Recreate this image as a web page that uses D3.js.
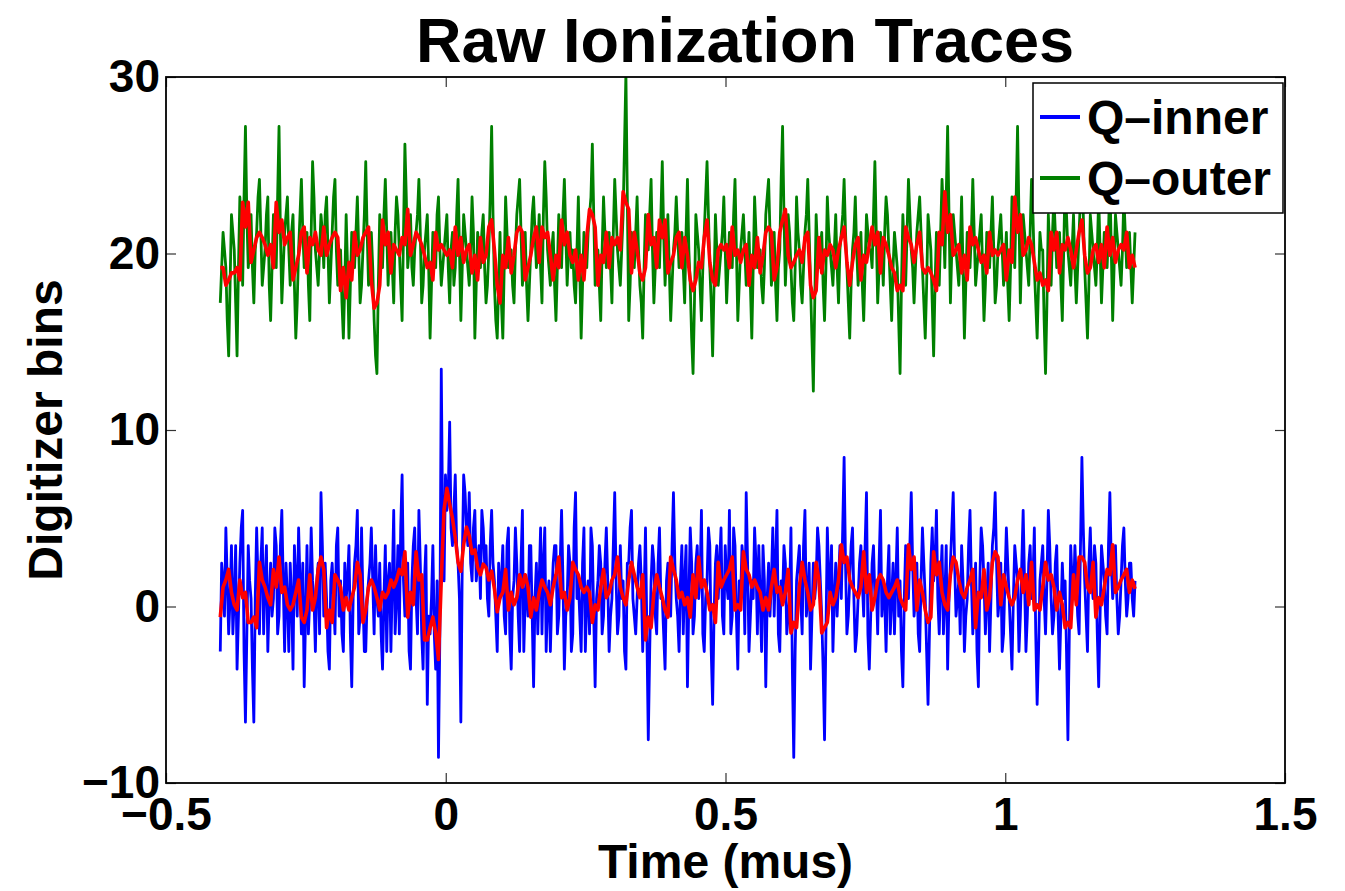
<!DOCTYPE html>
<html>
<head>
<meta charset="utf-8">
<script src="https://cdn.jsdelivr.net/npm/d3@7"></script>
<style>
	body { margin: 0; background: #fff; }
	text { font-family: "Liberation Sans", Arial, sans-serif; font-weight: bold; fill: #000; }
</style>
</head>
<body>
<div id="chart"></div>
<script>
// sampling grid of the digitizer (mus)
const sampleStart = -0.403;
const samplePeriod = 0.0025; // raw traces
const filterPeriod = 0.005; // filtered traces

// pedestals of the two channels (digitizer bins)
const innerPedestal = 0.45;
const outerPedestal = 0.2;

// raw samples, digitizer counts above pedestal (even / odd grid points)
const qInnerEven = [
	-3, 1, 4, -2, 3, 0, -4, 2, 5, -7, 3, 0, -7, 4, -2, 4, 1, -3, 2, 0,
	3, -1, 5, -3, 0, 2, -4, 1, 4, -2, -5, 3, 0, 1, -3, 2, 6, -1, 0, -4,
	2, -2, 4, 1, -3, 0, 3, -5, 2, 5, -1, 0, -3, 1, 4, -2, 0, 2, -4, 3,
	1, -3, 5, 0, -2, 7, -1, 2, -4, 3, 0, 5, -2, 1, -6, -2, 3, -4, -9, 13,
	1, 5, 10, 3, 7, 2, -7, 7, 4, 6, 1, 5, 2, 0, 4, 3, -1, 5, 1, -3,
	0, 3, -2, 4, -4, 1, 2, -3, 5, 0, -1, 3, -5, 2, 1, -2, 4, 0, -3, 2,
	3, -1, 5, -4, 0, 2, -2, 6, 1, -3, 4, 0, -2, 3, -5, 1, 2, -1, 4, -3,
	0, 6, -2, 3, 1, -4, 2, 5, -1, 0, 3, -3, 4, -8, 1, 2, -2, 4, 0, -4,
	2, -1, 6, 0, -3, 3, 1, -5, 4, -2, 2, 0, 5, -3, 1, 3, -6, 2, 0, 4,
	-2, 1, 5, -1, 3, -4, 0, 2, 6, -3, 1, 4, -2, 0, 3, -5, 2, 1, -1, 5,
	-3, 0, 2, -1, 4, -9, 1, 3, -2, 5, 0, -4, 2, 1, 3, -1, -8, 4, 0, -3,
	2, 1, 0, 8, -2, 1, 4, -3, 0, 3, -1, 6, -4, 2, 0, -2, 5, 1, -3, 3,
	0, -2, 4, 1, -5, 3, 0, 6, -1, 2, -3, 4, 0, -6, 2, 1, 5, -2, 3, 0,
	-4, 2, 6, -1, 1, 3, -3, 0, 5, -2, 2, -5, 4, 1, 0, -3, 3, 6, -1, 2,
	-2, 4, 0, -4, 3, 1, -1, 5, -3, 2, 0, 4, -6, 1, 3, -2, 5, 0, -1, 3,
	-4, 2, 1, -8, 3, 0, 1, -2, 8, 1, -3, 4, 0, 2, -5, 3, 1, -2, 6, 0,
	3, -2, 1, 4, -1, 2, 0, 1,
];

const qInnerOdd = [
	2, -1, 1, 0, -2, 3, -1, 4, -3, -2, 1, -4, 0, 1, 2, -2, 3, 0, -1, 4,
	-2, 3, 1, 2, -3, 0, 3, -1, 1, 2, -1, -2, 4, 0, 1, -2, 3, 2, -3, 1,
	0, 3, -1, -2, 2, 1, -2, 0, 3, -2, 4, -3, 0, 2, 1, 3, -1, -2, 0, -3,
	2, 1, -2, 3, 4, 1, 0, -3, 1, 4, -2, 2, -4, 3, -1, 0, -2, 1, -2, 4,
	7, 6, 4, 5, 3, 0, 2, 6, 3, 2, 4, 1, 3, 5, 2, 0, 3, 2, -1, 2,
	1, -1, 3, -2, 0, 4, -1, 2, -3, 1, 3, -1, 0, -2, 4, 2, -3, 1, 0, 3,
	-2, 2, 1, -1, 3, -3, 4, 0, -1, 2, -3, 1, 4, -1, 0, 3, -2, 2, 1, -1,
	3, 1, -1, 0, -3, 2, 4, 0, -2, 2, 1, 0, -2, -3, 3, -1, 2, 0, -2, 1,
	0, 3, 2, -1, 1, -2, 3, 0, 2, -1, 3, 1, -2, 0, 4, -3, -1, 3, 2, -1,
	3, 0, -2, 4, -1, 1, 3, -2, 2, -1, 0, 2, 3, -3, 1, 0, -1, 4, 2, -2,
	1, 3, -2, 0, -4, -3, 2, 0, 3, -1, 2, -1, 0, 4, 1, -4, -2, 1, 3, 0,
	-1, 3, 4, 2, -1, 3, 0, -2, 2, 1, 3, -2, -1, 3, 1, 2, -1, 0, 1, -2,
	2, 1, -1, -3, 0, 1, 3, 2, 0, -2, 1, 2, -3, -2, 4, 2, 0, 1, -2, 3,
	0, 4, 2, 0, -2, 1, -1, 3, 1, 0, -3, 1, 3, -2, 2, 0, 4, 2, 0, -3,
	1, 2, -2, 0, 2, -3, 2, 1, -1, 3, 1, -2, -3, 2, 0, 1, 3, -2, 2, -1,
	-1, 0, -3, -2, 1, 3, -1, 3, 4, -1, 2, 1, 3, -2, -1, 2, -1, 3, 2, 1,
	0, -1, 3, 1, 0, 2, -1,
];

const qOuterEven = [
	17, 21, 19, 14, 22, 20, 14, 23, 18, 27, 19, 22, 17, 21, 24, 18, 20, 23, 16, 22,
	19, 27, 17, 21, 23, 18, 22, 15, 20, 24, 19, 21, 16, 25, 20, 18, 22, 19, 23, 17,
	21, 24, 18, 20, 15, 22, 15, 21, 19, 23, 17, 20, 25, 18, 21, 16, 13, 22, 19, 24,
	18, 21, 17, 23, 20, 16, 26, 19, 22, 18, 21, 24, 17, 20, 22, 15, 21, 19, 23, 18,
	20, 22, 17, 21, 19, 24, 16, 22, 20, 18, 23, 15, 21, 19, 22, 17, 20, 27, 18, 15,
	21, 15, 23, 19, 20, 17, 22, 24, 18, 21, 16, 20, 23, 19, 22, 17, 25, 20, 18, 21,
	16, 22, 19, 24, 18, 21, 20, 17, 23, 15, 21, 19, 22, 26, 18, 20, 16, 23, 19, 21,
	17, 24, 20, 18, 22, 30, 16, 21, 19, 23, 18, 15, 22, 20, 24, 17, 21, 19, 25, 18,
	22, 16, 20, 23, 19, 21, 17, 24, 18, 13, 22, 20, 16, 21, 25, 19, 14, 22, 18, 20,
	23, 17, 21, 19, 24, 16, 20, 22, 18, 21, 15, 23, 19, 20, 17, 22, 24, 18, 21, 16,
	20, 27, 18, 22, 19, 16, 23, 20, 17, 21, 24, 18, 12, 22, 19, 21, 16, 23, 20, 18,
	22, 17, 21, 24, 19, 15, 20, 23, 18, 21, 16, 22, 20, 19, 25, 17, 21, 18, 23, 20,
	16, 21, 19, 13, 22, 18, 24, 20, 17, 21, 23, 19, 15, 22, 20, 14, 21, 18, 24, 19,
	27, 17, 22, 20, 18, 23, 15, 21, 19, 24, 18, 20, 22, 16, 21, 19, 23, 17, 20, 22,
	18, 21, 16, 23, 19, 27, 17, 22, 20, 18, 24, 19, 15, 21, 20, 13, 22, 18, 23, 19,
	21, 16, 24, 20, 18, 22, 17, 21, 25, 19, 15, 22, 20, 18, 23, 17, 21, 19, 24, 16,
	22, 20, 18, 23, 19, 21, 17, 21,
];

const qOuterOdd = [
	19, 20, 16, 18, 21, 17, 19, 21, 23, 22, 20, 19, 20, 23, 21, 19, 22, 18, 19, 20,
	23, 21, 19, 22, 20, 21, 18, 17, 22, 21, 20, 18, 21, 23, 19, 20, 21, 22, 20, 19,
	23, 20, 19, 17, 18, 19, 18, 20, 21, 20, 18, 22, 21, 20, 19, 14, 18, 20, 22, 21,
	20, 19, 21, 22, 18, 21, 23, 20, 19, 20, 22, 21, 18, 21, 19, 18, 20, 22, 20, 19,
	21, 19, 20, 18, 22, 20, 19, 21, 19, 20, 21, 18, 20, 21, 19, 18, 23, 22, 16, 18,
	17, 19, 21, 20, 18, 20, 23, 21, 19, 18, 18, 22, 21, 20, 19, 22, 23, 19, 20, 18,
	19, 20, 22, 21, 20, 19, 18, 20, 19, 18, 20, 21, 23, 22, 19, 18, 20, 21, 20, 19,
	21, 22, 19, 20, 26, 23, 18, 20, 21, 20, 17, 19, 21, 22, 20, 19, 20, 22, 21, 20,
	19, 18, 21, 21, 20, 19, 21, 20, 15, 17, 21, 18, 19, 23, 22, 17, 18, 20, 19, 21,
	20, 19, 20, 22, 20, 18, 21, 20, 19, 18, 19, 21, 20, 18, 19, 23, 21, 19, 18, 19,
	24, 22, 20, 21, 17, 19, 21, 18, 19, 22, 21, 15, 17, 20, 20, 18, 19, 21, 19, 20,
	19, 20, 22, 21, 17, 18, 21, 20, 19, 18, 19, 21, 20, 22, 21, 19, 20, 21, 22, 18,
	19, 20, 16, 18, 20, 21, 22, 19, 19, 22, 21, 17, 18, 21, 17, 18, 20, 21, 22, 23,
	22, 20, 21, 19, 20, 19, 18, 20, 21, 21, 19, 21, 19, 18, 20, 21, 20, 18, 21, 20,
	19, 18, 19, 21, 23, 22, 20, 21, 19, 21, 22, 17, 18, 20, 16, 17, 20, 21, 21, 20,
	18, 20, 22, 19, 20, 19, 19, 23, 22, 17, 18, 21, 19, 20, 20, 19, 20, 21, 20, 19,
	21, 19, 20, 21, 20, 19, 19,
];

// filtered traces (red), digitizer bins
const qInnerFilt = [
	-0.6, 1.1, 1.5, 2.1, 0.8, 0.1, -0.2, 1.5, 0.5, 0.8, -0.9, -0.9, -0.6, -1.2, 2.5, 1.5, 1.1, 0.5, 0.1, 2.1,
	1.1, 2.8, 0.8, 1.1, 0.1, -0.2, 0.1, 0.8, 1.5, -0.6, -0.9, -0.2, 1.8, -0.2, 0.5, 2.1, 2.8, 2.1, -1.2, -0.2,
	-0.9, 1.8, 1.5, 1.1, -0.2, 0.5, -0.2, 0.5, 1.1, 2.5, 1.8, -0.9, -0.2, 1.1, 1.5, 1.1, 0.5, -0.2, 0.8, 0.5,
	0.8, 1.5, 1.1, 1.5, 2.1, 1.8, 3.1, -0.6, 0.8, 0.1, 3.1, 1.5, 1.8, -1.9, -1.9, -1.2, -0.6, -1.5, -3.0, 1.5,
	5.5, 6.7, 5.8, 5.0, 3.9, 2.5, 2.0, 3.5, 4.5, 4.0, 3.0, 3.2, 2.2, 1.8, 2.4, 2.2, 1.5, 2.0, 1.0, -0.3,
	0.5, 0.8, 2.1, -0.2, 0.8, 0.1, 0.5, 1.8, 1.1, 1.8, 1.1, -0.6, 0.5, -0.2, 0.8, 1.5, 1.1, 0.8, 0.1, 1.1,
	1.8, 2.8, 0.5, 0.8, -0.2, 0.5, 2.5, 2.1, 1.8, 1.1, 0.8, 1.1, 0.8, -0.9, 0.1, -0.2, 1.1, 2.1, 0.5, 0.8,
	1.5, 1.8, 2.8, 1.1, 0.5, 0.1, 1.5, 2.5, 1.8, 1.1, 0.5, 1.8, -1.9, -0.6, -1.2, 0.8, 1.8, 1.1, 0.5, -0.2,
	-0.6, 2.8, 2.1, 1.5, 0.5, 0.8, 0.1, 0.5, -0.6, 1.8, 0.5, 2.8, 1.1, 1.5, 0.8, -0.2, 0.1, -0.9, 2.5, 1.1,
	1.5, 1.8, 2.1, 2.8, -0.2, 0.1, -0.2, 3.1, 2.1, 1.8, 1.1, 1.5, 1.1, 0.8, -0.2, 0.5, -0.2, 1.1, 2.1, 0.8,
	1.1, 0.1, 0.8, 2.1, -1.5, -0.9, -1.2, 1.1, 2.5, 1.5, 0.8, -0.2, 0.1, 2.5, 1.5, -1.5, -1.2, -0.9, 0.8, 0.1,
	0.5, 1.5, 3.5, 2.5, 2.8, 1.5, 1.1, 0.8, 0.5, 1.1, 3.1, 0.8, 1.8, -0.2, 0.5, 1.5, 1.8, 1.5, 0.8, 0.5,
	0.8, 1.1, 1.5, 0.5, 0.1, -0.2, 3.5, 2.1, 2.8, -0.2, 1.5, 0.8, -0.2, -0.9, -0.6, 3.1, 1.8, 2.5, 0.8, 0.1,
	-0.2, 1.8, 2.8, 2.5, 1.5, 0.8, 0.5, 1.1, 1.5, 2.1, -1.2, 0.8, 0.5, 2.1, -0.2, 0.5, 2.5, 3.1, 2.8, 0.1,
	1.8, 1.1, 0.5, 0.1, 0.5, 1.5, 2.1, 0.8, 1.8, 0.1, 2.5, -0.2, 0.1, -0.2, 1.1, 2.5, 1.5, 1.8, 1.1, -0.2,
	0.8, 0.1, -1.2, -0.9, -1.2, 1.8, 0.1, 2.8, 2.8, 2.5, 1.1, 0.8, 2.5, -0.6, 0.5, 0.1, 1.1, 2.1, 1.8, 3.5,
	0.8, 1.1, 1.5, 1.8, 2.1, 0.8, 1.5, 1.0,
];

const qOuterFilt = [
	19.2, 19.2, 18.2, 18.5, 18.9, 18.9, 19.2, 18.5, 22.9, 21.5, 22.9, 19.5, 20.2, 20.9, 21.2, 20.9, 20.5, 19.9, 20.5, 19.2,
	22.9, 21.2, 21.9, 20.5, 20.9, 21.2, 18.5, 19.2, 19.9, 21.2, 21.5, 18.9, 20.9, 20.5, 21.2, 20.2, 19.9, 21.5, 19.9, 20.5,
	20.9, 21.2, 20.9, 17.9, 19.2, 17.5, 19.5, 18.5, 21.2, 19.9, 20.2, 20.9, 21.2, 21.5, 18.5, 16.9, 17.2, 18.2, 21.9, 20.5,
	21.2, 18.9, 20.5, 20.2, 19.9, 20.9, 20.5, 22.5, 19.9, 20.5, 21.2, 20.9, 20.5, 19.9, 19.2, 19.5, 18.5, 21.2, 20.2, 20.5,
	20.2, 19.9, 20.2, 19.2, 21.5, 19.9, 20.9, 19.5, 20.2, 20.5, 18.9, 19.9, 18.5, 20.9, 19.5, 19.9, 21.5, 21.9, 20.2, 18.2,
	17.2, 19.9, 19.2, 20.9, 18.9, 19.9, 21.2, 21.5, 21.2, 18.5, 19.2, 19.9, 20.9, 21.5, 19.5, 21.5, 20.9, 21.2, 19.9, 18.5,
	19.9, 19.2, 21.9, 20.5, 21.2, 19.9, 19.5, 20.2, 18.5, 19.9, 18.5, 20.9, 22.5, 22.2, 21.5, 18.2, 19.9, 19.5, 21.2, 19.2,
	20.9, 20.5, 20.9, 20.2, 23.5, 22.9, 22.5, 18.9, 21.2, 20.2, 18.9, 18.5, 19.2, 22.2, 20.5, 20.9, 19.2, 21.9, 20.9, 21.9,
	18.9, 19.5, 19.9, 20.9, 21.2, 19.2, 20.9, 19.9, 18.5, 17.9, 18.5, 19.5, 19.2, 20.9, 21.9, 19.5, 18.5, 18.2, 20.2, 20.5,
	20.2, 20.5, 19.2, 21.5, 19.9, 20.2, 19.5, 20.2, 20.5, 18.2, 19.9, 19.2, 20.9, 18.9, 19.9, 21.2, 21.5, 21.2, 18.5, 19.2,
	21.2, 21.9, 22.5, 19.9, 19.2, 19.5, 19.9, 20.2, 19.5, 20.9, 21.2, 18.2, 17.5, 17.9, 20.9, 18.9, 20.2, 19.9, 20.5, 20.2,
	19.2, 20.2, 20.9, 21.5, 19.5, 18.2, 19.5, 20.5, 20.9, 18.5, 19.9, 19.5, 20.5, 21.5, 20.5, 21.2, 18.9, 20.9, 20.5, 19.9,
	19.2, 18.9, 17.9, 18.2, 17.9, 21.5, 20.9, 20.5, 19.5, 20.5, 21.2, 19.2, 18.9, 19.2, 18.9, 18.5, 17.9, 21.2, 20.5, 23.5,
	21.2, 22.2, 19.9, 20.2, 20.5, 18.9, 19.9, 18.5, 21.5, 20.5, 20.9, 20.2, 19.5, 19.9, 18.9, 21.2, 19.9, 20.2, 19.9, 20.2,
	20.5, 18.5, 20.2, 19.5, 23.2, 21.2, 22.2, 19.9, 20.2, 20.9, 20.5, 19.5, 18.5, 18.9, 18.2, 18.5, 17.9, 21.2, 20.2, 21.2,
	18.9, 20.5, 20.2, 20.9, 20.2, 19.2, 20.2, 21.2, 21.9, 19.9, 18.9, 19.2, 20.2, 20.5, 19.5, 20.5, 19.2, 21.5, 19.9, 20.9,
	19.5, 20.2, 20.5, 20.2, 21.2, 19.2, 19.9, 19.2,
];

const xTicks = [-0.5, 0, 0.5, 1, 1.5];
const yTicks = [-10, 0, 10, 20, 30];
const seriesNames = ["Q\u2013inner", "Q\u2013outer"];
const seriesColors = ["#0000ff", "#008000"];
const filterColor = "#ff0000";

const svgWidth = 1345;
const svgHeight = 891;

const margin = {
	top: 77,
	right: 60,
	bottom: 108,
	left: 166,
};

// merge even and odd grid points into one trace
const interleave = (even, odd) => even.flatMap((v, i) => (i < odd.length ? [v, odd[i]] : [v]));

const qInner = interleave(qInnerEven, qInnerOdd);
const qOuter = interleave(qOuterEven, qOuterOdd);

const svg = d3
	.select("#chart")
	.append("svg")
	.attr("width", svgWidth)
	.attr("height", svgHeight)
	.style("display", "block");

const xScale = d3
	.scaleLinear()
	.domain([-0.5, 1.5])
	.range([margin.left, svgWidth - margin.right]);

const yScale = d3
	.scaleLinear()
	.domain([-10, 30])
	.range([svgHeight - margin.bottom, margin.top]);

// clip traces to the axes box, like matlab does
svg
	.append("clipPath")
	.attr("id", "plot-area")
	.append("rect")
	.attr("x", margin.left)
	.attr("y", margin.top)
	.attr("width", svgWidth - margin.left - margin.right)
	.attr("height", svgHeight - margin.top - margin.bottom);

const tracesLayer = svg.append("g").attr("clip-path", "url(#plot-area)");

const traceLine = (offset, period) =>
	d3
		.line()
		.x((d, i) => xScale(sampleStart + i * period))
		.y((d) => yScale(d + offset));

const traces = [
	{ values: qInner, offset: innerPedestal, period: samplePeriod, color: seriesColors[0], width: 2.8 },
	{ values: qOuter, offset: outerPedestal, period: samplePeriod, color: seriesColors[1], width: 2.8 },
	{ values: qInnerFilt, offset: 0, period: filterPeriod, color: filterColor, width: 3.6 },
	{ values: qOuterFilt, offset: 0, period: filterPeriod, color: filterColor, width: 3.6 },
];

tracesLayer
	.selectAll("path")
	.data(traces)
	.enter()
	.append("path")
	.attr("fill", "none")
	.attr("stroke", (d) => d.color)
	.attr("stroke-width", (d) => d.width)
	.attr("stroke-linejoin", "round")
	.attr("d", (d) => traceLine(d.offset, d.period)(d.values));

// axes (ticks point inward, box on)
const axesLayer = svg.append("g").attr("class", "axes");
const tickLen = 10;
const tickFont = 46;

const styleAxis = (g) => {
	g.select(".domain").remove();
	g.selectAll(".tick line").attr("stroke", "#333").attr("stroke-width", 1.2);
	g.selectAll(".tick text")
		.attr("font-size", tickFont)
		.attr("font-family", "'Liberation Sans', Arial, sans-serif")
		.attr("font-weight", "bold")
		.attr("fill", "#000");
};

const tickFormat = d3.format("~");

axesLayer
	.append("g")
	.attr("transform", `translate(0 ${svgHeight - margin.bottom})`)
	.call(
		d3
			.axisBottom(xScale)
			.tickValues(xTicks)
			.tickFormat(tickFormat)
			.tickSizeInner(-tickLen)
			.tickSizeOuter(0)
			.tickPadding(14)
	)
	.call(styleAxis);

axesLayer
	.append("g")
	.attr("transform", `translate(0 ${margin.top})`)
	.call(d3.axisTop(xScale).tickValues(xTicks).tickSizeInner(-tickLen).tickSizeOuter(0).tickFormat(""))
	.call(styleAxis);

axesLayer
	.append("g")
	.attr("transform", `translate(${margin.left} 0)`)
	.call(
		d3
			.axisLeft(yScale)
			.tickValues(yTicks)
			.tickFormat(tickFormat)
			.tickSizeInner(-tickLen)
			.tickSizeOuter(0)
			.tickPadding(6)
	)
	.call(styleAxis);

axesLayer
	.append("g")
	.attr("transform", `translate(${svgWidth - margin.right} 0)`)
	.call(d3.axisRight(yScale).tickValues(yTicks).tickSizeInner(-tickLen).tickSizeOuter(0).tickFormat(""))
	.call(styleAxis);

axesLayer
	.append("rect")
	.attr("x", margin.left)
	.attr("y", margin.top)
	.attr("width", svgWidth - margin.left - margin.right)
	.attr("height", svgHeight - margin.top - margin.bottom)
	.attr("fill", "none")
	.attr("stroke", "#000")
	.attr("stroke-width", 1.8);

// titles
svg
	.append("text")
	.attr("x", 745)
	.attr("y", 62)
	.attr("text-anchor", "middle")
	.attr("font-size", 63)
	.text("Raw Ionization Traces");

svg
	.append("text")
	.attr("x", (margin.left + svgWidth - margin.right) / 2)
	.attr("y", 878)
	.attr("text-anchor", "middle")
	.attr("font-size", 48)
	.text("Time (mus)");

svg
	.append("text")
	.attr("transform", `translate(62 ${(margin.top + svgHeight - margin.bottom) / 2}) rotate(-90)`)
	.attr("text-anchor", "middle")
	.attr("font-size", 48)
	.text("Digitizer bins");

// legend
const legend = svg
	.append("g")
	.attr("transform", `translate(${svgWidth - margin.right - 252}, ${margin.top + 6})`);

legend
	.append("rect")
	.attr("width", 250)
	.attr("height", 130)
	.attr("fill", "#fff")
	.attr("stroke", "#000")
	.attr("stroke-width", 1.5);

seriesNames.forEach((name, i) => {
	const legendRow = legend.append("g").attr("transform", `translate(0, ${34 + i * 61})`);

	legendRow
		.append("line")
		.attr("x1", 7)
		.attr("x2", 47)
		.attr("stroke", seriesColors[i])
		.attr("stroke-width", 4);

	legendRow
		.append("text")
		.attr("x", 54)
		.attr("y", 17)
		.attr("font-size", 48)
		.text(name);
});
</script>
</body>
</html>
